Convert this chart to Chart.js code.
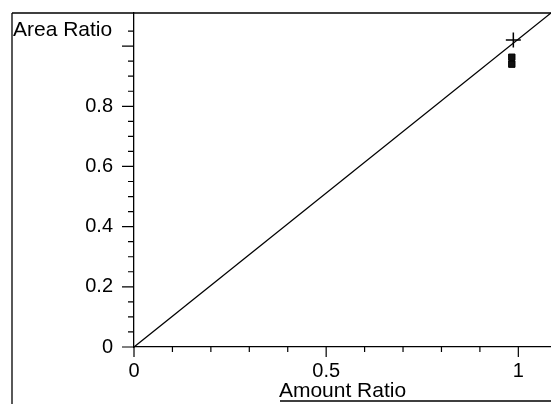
<!DOCTYPE html>
<html>
<head>
<meta charset="utf-8">
<script src="https://cdn.jsdelivr.net/npm/chart.js@4"></script>
<style>
  html, body { margin: 0; padding: 0; background: #fff; }
  #wrap { width: 551px; height: 404px; }
</style>
</head>
<body>
<div id="wrap"><canvas id="ratio"></canvas></div>
<script>
// values
const diagX = [0, 1.085];
const diagY = [0, 1.11];
const crossX = [0.987];
const crossY = [1.02];
const squareX = [0.983, 0.983];
const squareY = [0.963, 0.94];
const xLabels = [0, 0.5, 1];
const yLabels = [0, 0.2, 0.4, 0.6, 0.8];

const FONT = 'Liberation Sans, Arial, sans-serif';

function near(v, list) {
  return list.some(l => Math.abs(l - v) < 1e-6);
}
function isMultiple(v, step) {
  const r = v / step;
  return Math.abs(r - Math.round(r)) < 1e-6;
}
function toPoints(xs, ys) {
  return xs.map((x, i) => ({ x: x, y: ys[i] }));
}

// minor/major tick marks + frame of the scanned page
const tickMarks = {
  id: 'tickMarks',
  afterDraw(chart) {
    const ctx = chart.ctx;
    const x = chart.scales.x;
    const y = chart.scales.y;
    const area = chart.chartArea;
    ctx.save();
    ctx.strokeStyle = '#000';
    ctx.lineWidth = 1.2;
    ctx.beginPath();
    x.ticks.forEach(t => {
      const px = x.getPixelForValue(t.value);
      const len = isMultiple(t.value, 0.5) ? 10 : 5;
      ctx.moveTo(px, area.bottom);
      ctx.lineTo(px, area.bottom + len);
    });
    y.ticks.forEach(t => {
      if (t.value > 1.08) return;
      const py = y.getPixelForValue(t.value);
      const len = isMultiple(t.value, 0.2) ? 12 : 6;
      ctx.moveTo(area.left, py);
      ctx.lineTo(area.left - len, py);
    });
    ctx.stroke();

    // frame
    ctx.lineWidth = 1.3;
    ctx.beginPath();
    ctx.moveTo(12, area.top);
    ctx.lineTo(chart.width, area.top);
    ctx.moveTo(12, area.top);
    ctx.lineTo(12, chart.height);
    ctx.moveTo(280, chart.height - 3);
    ctx.lineTo(chart.width, chart.height - 3);
    ctx.stroke();

    ctx.fillStyle = '#000';
    ctx.font = '21px ' + FONT;
    ctx.textAlign = 'left';
    ctx.textBaseline = 'alphabetic';
    ctx.fillText('Area Ratio', 13, 36);
    ctx.restore();
  }
};

const chart = new Chart(document.getElementById('ratio'), {
  type: 'scatter',
  data: {
    datasets: [
      {
        data: toPoints(diagX, diagY),
        showLine: true,
        borderColor: '#000',
        borderWidth: 1.3,
        pointRadius: 0,
        clip: false
      },
      {
        data: toPoints(crossX, crossY),
        pointStyle: 'cross',
        pointRadius: 7.5,
        borderColor: '#000',
        borderWidth: 1.5,
        clip: false
      },
      {
        data: toPoints(squareX, squareY),
        pointStyle: 'rect',
        pointRadius: 4.5,
        backgroundColor: '#111',
        borderColor: '#000',
        borderWidth: 1,
        clip: false
      }
    ]
  },
  options: {
    responsive: true,
    maintainAspectRatio: false,
    animation: false,
    layout: { autoPadding: false, padding: { top: 13, right: 0, left: 0, bottom: 0 } },
    plugins: {
      legend: { display: false },
      tooltip: { enabled: false }
    },
    scales: {
      x: {
        type: 'linear',
        min: 0,
        max: 1.085,
        border: { color: '#000', width: 1.3 },
        grid: { drawOnChartArea: false, drawTicks: true, tickLength: 10, tickColor: 'rgba(0,0,0,0)' },
        ticks: {
          stepSize: 0.1,
          includeBounds: false,
          autoSkip: false,
          maxRotation: 0,
          padding: 2,
          color: '#000',
          font: { family: FONT, size: 20 },
          callback: v => near(v, xLabels) ? String(Math.round(v * 10) / 10) : ''
        },
        title: {
          display: true,
          text: 'Amount Ratio',
          color: '#000',
          font: { family: FONT, size: 21 },
          padding: { top: 0, bottom: 0 }
        },
        afterFit: s => {
          s.height = 57;
          s.paddingLeft = 0;
          s.paddingRight = 0;
        }
      },
      y: {
        type: 'linear',
        min: 0,
        max: 1.11,
        border: { color: '#000', width: 1.3 },
        grid: { drawOnChartArea: false, drawTicks: true, tickLength: 12, tickColor: 'rgba(0,0,0,0)' },
        ticks: {
          stepSize: 0.05,
          includeBounds: false,
          autoSkip: false,
          padding: 9,
          color: '#000',
          font: { family: FONT, size: 20 },
          callback: v => near(v, yLabels) ? String(Math.round(v * 10) / 10) : ''
        },
        afterFit: s => {
          s.width = 134;
          s.paddingTop = 0;
          s.paddingBottom = 0;
        }
      }
    }
  },
  plugins: [tickMarks]
});
</script>
</body>
</html>
